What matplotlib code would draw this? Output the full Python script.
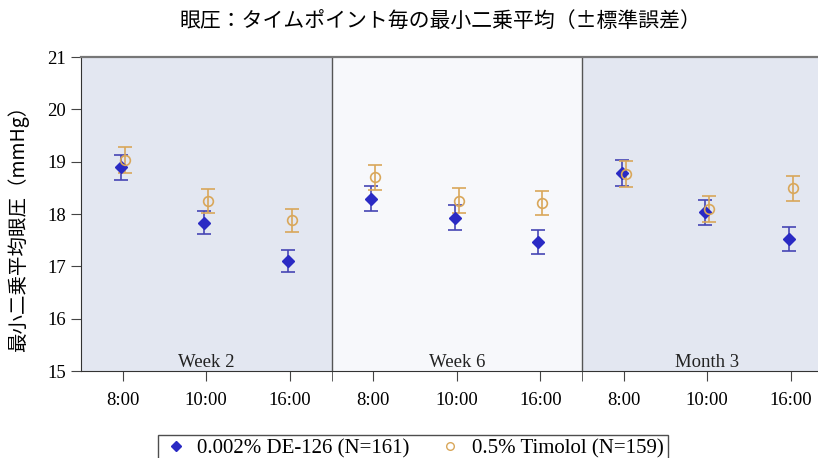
import matplotlib
matplotlib.use("Agg")
import matplotlib.pyplot as plt
from matplotlib.lines import Line2D

plt.rcParams['font.family'] = ['Noto Sans CJK JP', 'DejaVu Sans']

# data
panels = ["Week 2", "Week 6", "Month 3"]
times = ["8:00", "10:00", "16:00"]
de126_mean = [18.89, 17.83, 17.10, 18.29, 17.93, 17.47, 18.78, 18.03, 17.53]
de126_se = [0.24, 0.22, 0.21, 0.24, 0.24, 0.23, 0.245, 0.24, 0.23]
tim_mean = [19.03, 18.25, 17.88, 18.70, 18.25, 18.21, 18.77, 18.09, 18.49]
tim_se = [0.245, 0.225, 0.22, 0.24, 0.24, 0.235, 0.25, 0.25, 0.235]

blue = "#2a2ac4"
blue_bar = "#4646b4"
orange = "#d9a75a"
serif = "Liberation Serif"

fig = plt.figure(figsize=(8.18, 4.58), dpi=100)
ax = fig.add_axes([81 / 818, 1 - 371 / 458, 1 - 81 / 818, (371 - 57) / 458])

n = len(times) * len(panels)
xs = list(range(n))
off = 0.025

shades = ["#e3e7f1", "#f7f8fb", "#e3e7f1"]
for i, name in enumerate(panels):
    lo, hi = i * 3 - 0.5, i * 3 + 2.5
    ax.axvspan(lo, hi, color=shades[i], zorder=0, lw=0)
    ax.text(i * 3 + 1, 15.0, name, ha="center", va="bottom",
            fontsize=13.5, family=serif, color="#222222")
for s in [2.5, 5.5]:
    ax.axvline(s, color="#555555", lw=1.0, zorder=1)

ax.errorbar([x - off for x in xs], de126_mean, yerr=de126_se, fmt="none",
            ecolor=blue_bar, elinewidth=1.2, capsize=5, capthick=1.2, zorder=3)
ax.errorbar([x + off for x in xs], tim_mean, yerr=tim_se, fmt="none",
            ecolor=orange, elinewidth=1.2, capsize=5, capthick=1.2, zorder=3)
ax.plot([x - off for x in xs], de126_mean, "D", color=blue, ms=6.5,
        mec=blue, ls="none", zorder=4)
ax.plot([x + off for x in xs], tim_mean, "o", mfc="none", mec=orange,
        ms=7, mew=1.2, ls="none", zorder=5)

ax.set_xlim(-0.5, -0.5 + (818 - 81) / 83.5)
ax.set_ylim(15, 21)
ax.set_xticks(xs)
ax.set_xticklabels(times * len(panels), family=serif, fontsize=13.5)
ax.set_xticks([2.5, 5.5], minor=True)
ax.set_yticks(range(15, 22))
ax.set_yticklabels([str(v) for v in range(15, 22)], family=serif, fontsize=13.5)
ax.tick_params(axis="both", which="both", direction="out", length=7,
               color="#444444", pad=4)
ax.tick_params(axis="x", which="major", pad=8)

for side in ["left", "bottom"]:
    ax.spines[side].set_color("#333333")
ax.spines["top"].set_color("#777777")
ax.spines["top"].set_linewidth(1.6)
ax.spines["right"].set_visible(False)

fig.text(18 / 818, 1 - 224 / 458, "最小二乗平均眼圧（mmHg）", rotation=90,
         ha="center", va="center", fontsize=14)
fig.text(0.538, 0.953, "眼圧：タイムポイント毎の最小二乗平均（±標準誤差）",
         ha="center", va="center", fontsize=15)

handles = [
    Line2D([], [], marker="D", color=blue, ls="none", ms=5.5),
    Line2D([], [], marker="o", mfc="none", mec=orange, ls="none", ms=5.5),
]
fig.legend(handles, ["0.002% DE-126 (N=161)", "0.5% Timolol (N=159)"],
           loc="upper center", bbox_to_anchor=(0.505, 1 - 435 / 458), ncol=2,
           prop={"family": serif, "size": 15}, frameon=True, fancybox=False,
           edgecolor="#222222", handletextpad=0.4, columnspacing=1.3,
           borderpad=0.2, handlelength=1.3, borderaxespad=0)

fig.savefig("out.png", dpi=100)
